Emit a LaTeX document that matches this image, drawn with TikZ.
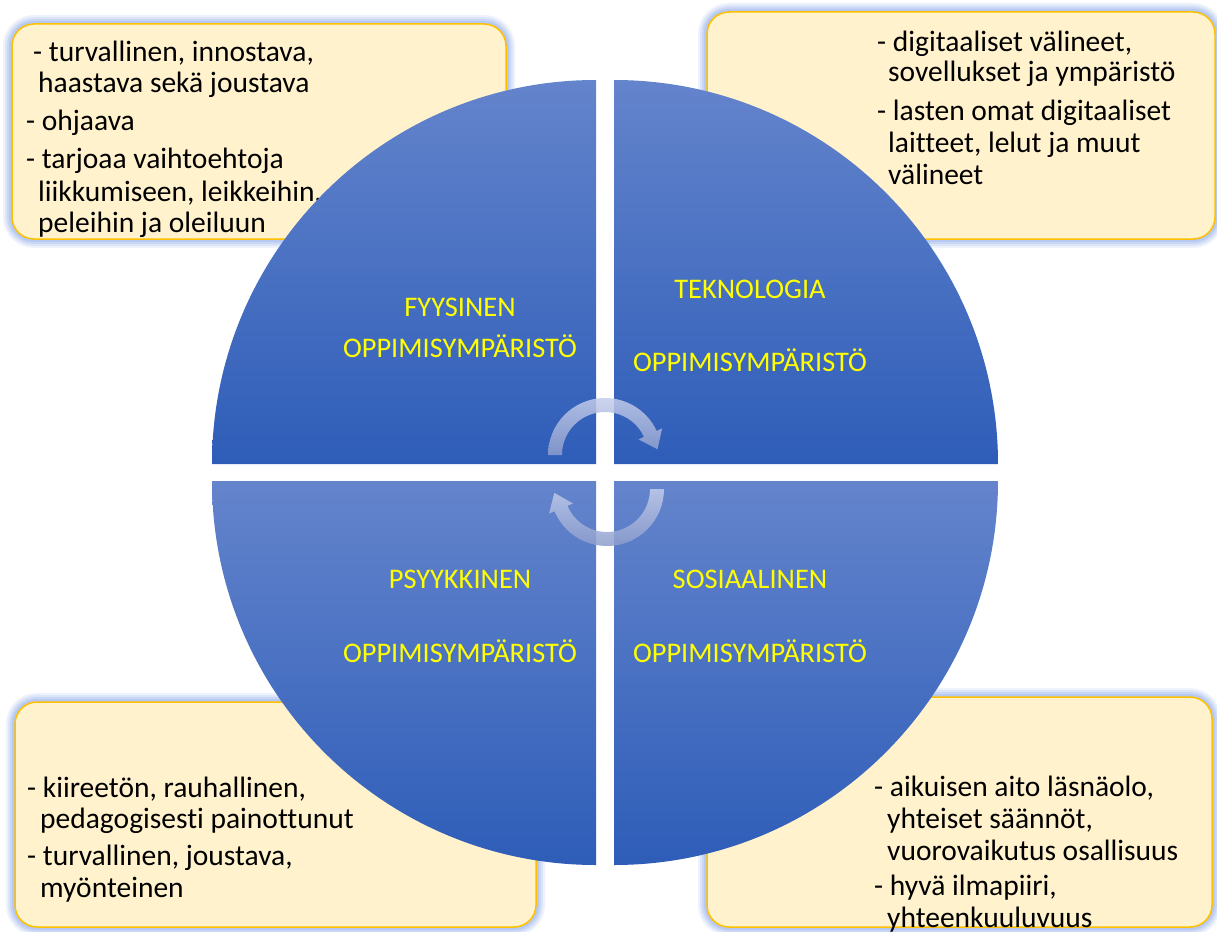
\documentclass[tikz,border=0pt]{standalone}
\usepackage{fontspec}
\setmainfont[Ligatures=NoCommon]{Carlito}
\usetikzlibrary{calc}
\definecolor{boxfill}{HTML}{FFF2CC}
\definecolor{boxline}{HTML}{FFC000}
\definecolor{glowc}{RGB}{120,155,230}
\definecolor{qtop}{RGB}{100,132,204}
\definecolor{qbot}{RGB}{46,93,184}
\definecolor{labc}{HTML}{FFFF00}
\definecolor{arrtop}{RGB}{196,205,235}
\definecolor{arrbot}{RGB}{140,157,204}
\tikzset{
  infobox/.style={fill=boxfill,draw=boxline,line width=1.5pt,rounded corners=22pt},
  glowline/.style={draw=glowc,rounded corners=22pt},
  quad/.style={top color=qtop,bottom color=qbot,draw=none},
  boxtext/.style={anchor=base west,inner sep=0pt,font=\fontsize{29.5}{34}\selectfont,text=black},
  quadlabel/.style={anchor=base,inner sep=0pt,font=\fontsize{28.4}{32}\selectfont,text=labc},
  cycarrow/.style={top color=arrtop,bottom color=arrbot,fill opacity=0.85,draw=none}
}
\newcommand{\glowbox}[2]{%
  \foreach \w/\o in {18/0.12,14/0.14,10/0.18,6/0.22}{
    \draw[glowline,line width=\w pt,draw opacity=\o] #1 rectangle #2;
  }
  \draw[infobox] #1 rectangle #2;
}
\begin{document}
\begin{tikzpicture}[x=1pt,y=-1pt]
\useasboundingbox (0,0) rectangle (1217,931);
\fill[white] (0,0) rectangle (1217,931);

% info boxes
\glowbox{(12,24)}{(506,239)}
\glowbox{(707,12)}{(1215,239)}
\glowbox{(15,702)}{(536,927)}
\glowbox{(707,697)}{(1212,927)}

% top-left box text
\node[boxtext] (tl1) at (33,62) {- turvallinen, innostava,};
\node[boxtext] (tl2) at (38,93) {haastava sekä joustava};
\node[boxtext] (tl3) at (26,130) {- ohjaava};
\node[boxtext] (tl4) at (26,168) {- tarjoaa vaihtoehtoja};
\node[boxtext] (tl5) at (38,201) {liikkumiseen, leikkeihin,};
\node[boxtext] (tl6) at (38,232) {peleihin ja oleiluun};

% top-right box text
\node[boxtext] (tr1) at (877,52) {- digitaaliset välineet,};
\node[boxtext] (tr2) at (888,82) {sovellukset ja ympäristö};
\node[boxtext] (tr3) at (877,121) {- lasten omat digitaaliset};
\node[boxtext] (tr4) at (888,152) {laitteet, lelut ja muut};
\node[boxtext] (tr5) at (888,184) {välineet};

% bottom-left box text
\node[boxtext] (bl1) at (27,797) {- kiireetön, rauhallinen,};
\node[boxtext] (bl2) at (40,828) {pedagogisesti painottunut};
\node[boxtext] (bl3) at (27,865) {- turvallinen, joustava,};
\node[boxtext] (bl4) at (40,897) {myönteinen};

% bottom-right box text
\node[boxtext] (br1) at (874,796) {- aikuisen aito läsnäolo,};
\node[boxtext] (br2) at (887,828) {yhteiset säännöt,};
\node[boxtext] (br3) at (887,860) {vuorovaikutus osallisuus};
\node[boxtext] (br4) at (874,895) {- hyvä ilmapiiri,};
\node[boxtext] (br5) at (887,927) {yhteenkuuluvuus};

% quadrants
\path[quad] (596,464) -- (212,464) arc[start angle=180,end angle=270,radius=384] -- cycle;
\path[quad] (614,464) -- (614,80) arc[start angle=270,end angle=360,radius=384] -- cycle;
\path[quad] (596,481) -- (212,481) arc[start angle=180,end angle=90,radius=384] -- cycle;
\path[quad] (614,481) -- (998,481) arc[start angle=0,end angle=90,radius=384] -- cycle;

% quadrant labels
\node[quadlabel] (q1a) at (460,316) {FYYSINEN};
\node[quadlabel] (q1b) at (460,357) {OPPIMISYMPÄRISTÖ};
\node[quadlabel] (q2a) at (750,298) {TEKNOLOGIA};
\node[quadlabel] (q2b) at (750,371) {OPPIMISYMPÄRISTÖ};
\node[quadlabel] (q3a) at (460,588) {PSYYKKINEN};
\node[quadlabel] (q3b) at (460,662) {OPPIMISYMPÄRISTÖ};
\node[quadlabel] (q4a) at (750,588) {SOSIAALINEN};
\node[quadlabel] (q4b) at (750,662) {OPPIMISYMPÄRISTÖ};

% cycle arrows
\coordinate (C1) at (605,455);
\coordinate (C2) at (607,489);
\path[cycarrow] ($(C1)+(180:57)$) arc[start angle=180,end angle=335,radius=57]
  -- ($(C1)+(335:63)$) -- ($(C1)+(335:50)+(65:17)$) -- ($(C1)+(335:37)$)
  -- ($(C1)+(335:43)$) arc[start angle=335,end angle=180,radius=43] -- cycle;
\path[cycarrow] ($(C2)+(0:57)$) arc[start angle=0,end angle=157,radius=57]
  -- ($(C2)+(157:63)$) -- ($(C2)+(157:50)+(247:17)$) -- ($(C2)+(157:37)$)
  -- ($(C2)+(157:43)$) arc[start angle=157,end angle=0,radius=43] -- cycle;
\end{tikzpicture}
\end{document}
